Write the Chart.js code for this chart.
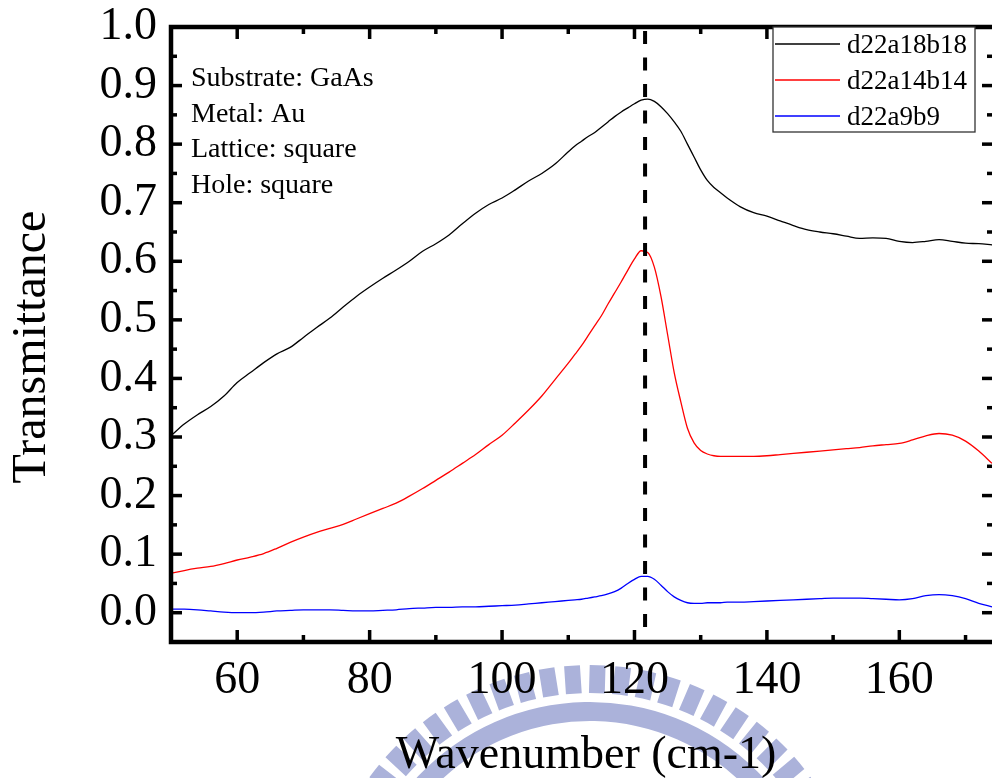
<!DOCTYPE html>
<html>
<head>
<meta charset="utf-8">
<script src="https://cdn.jsdelivr.net/npm/chart.js@4.4.1/dist/chart.umd.min.js"></script>
<style>
  html, body { margin: 0; padding: 0; background: #fff; overflow: hidden; }
  #wrap { width: 1000px; height: 778px; }
</style>
</head>
<body>
<div id="wrap"><canvas id="c" width="1000" height="778"></canvas></div>
<script>
// Wavenumber samples (cm-1)
const wavenumber = [
  50, 52, 54, 56, 58, 60, 62, 64, 66, 68, 70, 72, 74, 76, 78, 80, 82, 84, 86, 88,
  90, 92, 94, 96, 98, 100, 102, 104, 106, 108, 110, 111, 112, 113, 114, 115, 116,
  117, 118, 119, 120, 121, 122, 123, 124, 125, 126, 127, 128, 129, 130, 131, 132,
  133, 134, 136, 138, 140, 142, 144, 146, 148, 150, 152, 154, 156, 158, 160, 162,
  164, 166, 168, 170, 172, 174
];

// Transmittance of each hole array
const d22a18b18 = [
  0.302, 0.322, 0.338, 0.352, 0.370, 0.393, 0.410, 0.427, 0.442, 0.453, 0.470, 0.487,
  0.503, 0.522, 0.540, 0.556, 0.571, 0.585, 0.600, 0.617, 0.630, 0.645, 0.664, 0.682,
  0.697, 0.708, 0.722, 0.737, 0.750, 0.766, 0.787, 0.797, 0.805, 0.813, 0.820, 0.829,
  0.838, 0.847, 0.855, 0.862, 0.869, 0.875, 0.877, 0.873, 0.864, 0.852, 0.838, 0.822,
  0.800, 0.778, 0.756, 0.738, 0.726, 0.717, 0.708, 0.693, 0.683, 0.677, 0.669, 0.661,
  0.654, 0.650, 0.647, 0.643, 0.639, 0.640, 0.639, 0.634, 0.632, 0.634, 0.637, 0.634,
  0.631, 0.630, 0.628
];
const d22a14b14 = [
  0.067, 0.072, 0.076, 0.079, 0.084, 0.090, 0.095, 0.101, 0.110, 0.120, 0.129, 0.137,
  0.144, 0.151, 0.160, 0.169, 0.178, 0.187, 0.199, 0.212, 0.226, 0.240, 0.255, 0.270,
  0.287, 0.303, 0.324, 0.346, 0.370, 0.398, 0.426, 0.441, 0.456, 0.473, 0.490, 0.507,
  0.527, 0.546, 0.565, 0.585, 0.604, 0.618, 0.615, 0.590, 0.540, 0.475, 0.410, 0.360,
  0.315, 0.290, 0.277, 0.271, 0.268, 0.267, 0.267, 0.267, 0.267, 0.268, 0.270, 0.272,
  0.274, 0.276, 0.278, 0.280, 0.282, 0.285, 0.287, 0.289, 0.295, 0.302, 0.306, 0.303,
  0.293, 0.276, 0.255
];
const d22a9b9 = [
  0.006, 0.006, 0.005, 0.003, 0.001, 0.000, 0.000, 0.001, 0.003, 0.004, 0.005, 0.005,
  0.005, 0.004, 0.003, 0.003, 0.004, 0.005, 0.007, 0.008, 0.009, 0.009, 0.010, 0.010,
  0.011, 0.012, 0.013, 0.015, 0.017, 0.019, 0.021, 0.022, 0.023, 0.025, 0.027, 0.029,
  0.032, 0.036, 0.042, 0.050, 0.057, 0.062, 0.062, 0.057, 0.047, 0.036, 0.027, 0.021,
  0.017, 0.016, 0.016, 0.017, 0.017, 0.017, 0.018, 0.018, 0.019, 0.020, 0.021, 0.022,
  0.023, 0.024, 0.025, 0.025, 0.025, 0.024, 0.023, 0.022, 0.024, 0.029, 0.031, 0.029,
  0.024, 0.016, 0.010
];

const seriesNames = ['d22a18b18', 'd22a14b14', 'd22a9b9'];
const seriesColors = ['#000000', '#ff0000', '#0000ff'];

// Axis ticks
const xTickValues = [60, 80, 100, 120, 140, 160];
const yTickValues = [0.0, 0.1, 0.2, 0.3, 0.4, 0.5, 0.6, 0.7, 0.8, 0.9, 1.0];
const xRange = [50, 174.6];
const yRange = [-0.05, 1.0];

// Resonance marker and sample description
const peakWavenumber = 121.6;
const sampleNotes = ['Substrate: GaAs', 'Metal: Au', 'Lattice: square', 'Hole: square'];

const SERIF = '"Liberation Serif", "Times New Roman", serif';

const toPoints = ys => wavenumber.map((x, i) => ({ x, y: ys[i] }));

// Faint university emblem behind the axis title
function drawEmblem(ctx) {
  const cx = 590, cy = 938;
  ctx.save();
  ctx.fillStyle = '#abb2da';
  // outer ring of radial bars
  const rOut = 273, rIn = 245, pitch = 0.094, half = 0.029;
  for (let a = -1.1; a <= 1.1; a += pitch) {
    const t = -Math.PI / 2 + a;
    ctx.beginPath();
    ctx.arc(cx, cy, rOut, t - half, t + half);
    ctx.arc(cx, cy, rIn, t + half * rOut / rIn, t - half * rOut / rIn, true);
    ctx.closePath();
    ctx.fill();
  }
  // inner band
  ctx.beginPath();
  ctx.arc(cx, cy, 236, -Math.PI / 2 - 1.2, -Math.PI / 2 + 1.2);
  ctx.arc(cx, cy, 217, -Math.PI / 2 + 1.2, -Math.PI / 2 - 1.2, true);
  ctx.closePath();
  ctx.fill();
  ctx.restore();
}

const decorations = {
  id: 'decorations',
  beforeDraw(chart) {
    const ctx = chart.ctx;
    ctx.save();
    ctx.fillStyle = '#fff';
    ctx.fillRect(0, 0, chart.width, chart.height);
    ctx.restore();
    drawEmblem(ctx);
  },
  afterDatasetsDraw(chart) {
    const { ctx, chartArea: a, scales: { x, y } } = chart;

    // dashed marker at the resonance
    const px = x.getPixelForValue(peakWavenumber);
    ctx.save();
    ctx.strokeStyle = '#000';
    ctx.lineWidth = 4;
    ctx.setLineDash([13, 13.5]);
    ctx.beginPath();
    ctx.moveTo(px, a.top + 4);
    ctx.lineTo(px, a.bottom);
    ctx.stroke();
    ctx.restore();

    // frame
    ctx.save();
    ctx.strokeStyle = '#000';
    ctx.lineWidth = 4.5;
    ctx.strokeRect(a.left, a.top, a.right - a.left, a.bottom - a.top);

    // inward ticks on all four sides
    ctx.lineWidth = 3.5;
    const tick = (x1, y1, x2, y2) => { ctx.beginPath(); ctx.moveTo(x1, y1); ctx.lineTo(x2, y2); ctx.stroke(); };
    for (let v = 60; v < xRange[1]; v += 10) {
      const major = xTickValues.includes(v);
      const p = x.getPixelForValue(v);
      const len = major ? 12 : 7;
      tick(p, a.bottom, p, a.bottom - len);
      tick(p, a.top, p, a.top + len);
    }
    for (let k = 0; k <= 20; k++) {
      const v = k * 0.05;
      const major = k % 2 === 0;
      const p = y.getPixelForValue(v);
      const len = major ? 11 : 6;
      tick(a.left, p, a.left + len, p);
      tick(a.right, p, a.right - len - 3, p);
    }
    ctx.restore();

    // sample description
    ctx.save();
    ctx.fillStyle = '#000';
    ctx.font = '28px ' + SERIF;
    ctx.textAlign = 'left';
    ctx.textBaseline = 'alphabetic';
    sampleNotes.forEach((t, i) => ctx.fillText(t, 191, 86 + i * 35.7));
    ctx.restore();

    // legend
    ctx.save();
    const lx = 773, ly = a.top, lw = 202, lh = 105;
    ctx.fillStyle = '#fff';
    ctx.fillRect(lx, ly, lw, lh);
    ctx.strokeStyle = '#333';
    ctx.lineWidth = 1.3;
    ctx.strokeRect(lx, ly, lw, lh);
    ctx.font = '27px ' + SERIF;
    ctx.textBaseline = 'alphabetic';
    chart.data.datasets.forEach((ds, i) => {
      const yy = 44 + i * 36;
      ctx.strokeStyle = ds.borderColor;
      ctx.lineWidth = 1.3;
      ctx.beginPath();
      ctx.moveTo(775, yy);
      ctx.lineTo(840, yy);
      ctx.stroke();
      ctx.fillStyle = '#000';
      ctx.fillText(ds.label, 847, yy + 9);
    });
    ctx.restore();

    // axis titles
    ctx.save();
    ctx.fillStyle = '#000';
    ctx.font = '46px ' + SERIF;
    ctx.textAlign = 'center';
    ctx.textBaseline = 'alphabetic';
    ctx.fillText('Wavenumber (cm-1)', 586, 768);
    ctx.translate(45, 347);
    ctx.rotate(-Math.PI / 2);
    ctx.font = '48px ' + SERIF;
    ctx.fillText('Transmittance', 0, 0);
    ctx.restore();
  }
};

new Chart(document.getElementById('c'), {
  type: 'line',
  data: {
    datasets: [d22a18b18, d22a14b14, d22a9b9].map((ys, i) => ({
      label: seriesNames[i],
      data: toPoints(ys),
      borderColor: seriesColors[i],
      borderWidth: 1.3,
      pointRadius: 0,
      fill: false,
      cubicInterpolationMode: 'monotone'
    }))
  },
  options: {
    responsive: false,
    animation: false,
    layout: { padding: { top: 27, right: 4, left: 0, bottom: 0 } },
    plugins: { legend: { display: false }, tooltip: { enabled: false } },
    scales: {
      x: {
        type: 'linear',
        min: xRange[0],
        max: xRange[1],
        grid: { display: false, drawTicks: false },
        border: { display: false },
        afterBuildTicks: s => { s.ticks = xTickValues.map(v => ({ value: v })); },
        afterFit: s => { s.height = 136; s.paddingLeft = 0; s.paddingRight = 0; },
        ticks: {
          color: '#000',
          padding: 16,
          maxRotation: 0,
          font: { family: SERIF, size: 46, lineHeight: 1 },
          callback: v => String(v)
        }
      },
      y: {
        type: 'linear',
        min: yRange[0],
        max: yRange[1],
        grid: { display: false, drawTicks: false },
        border: { display: false },
        afterBuildTicks: s => { s.ticks = yTickValues.map(v => ({ value: v })); },
        afterFit: s => { s.width = 171; s.paddingTop = 0; s.paddingBottom = 0; },
        ticks: {
          color: '#000',
          padding: 14,
          font: { family: SERIF, size: 46, lineHeight: 1 },
          callback: v => Number(v).toFixed(1)
        }
      }
    }
  },
  plugins: [decorations]
});
</script>
</body>
</html>
